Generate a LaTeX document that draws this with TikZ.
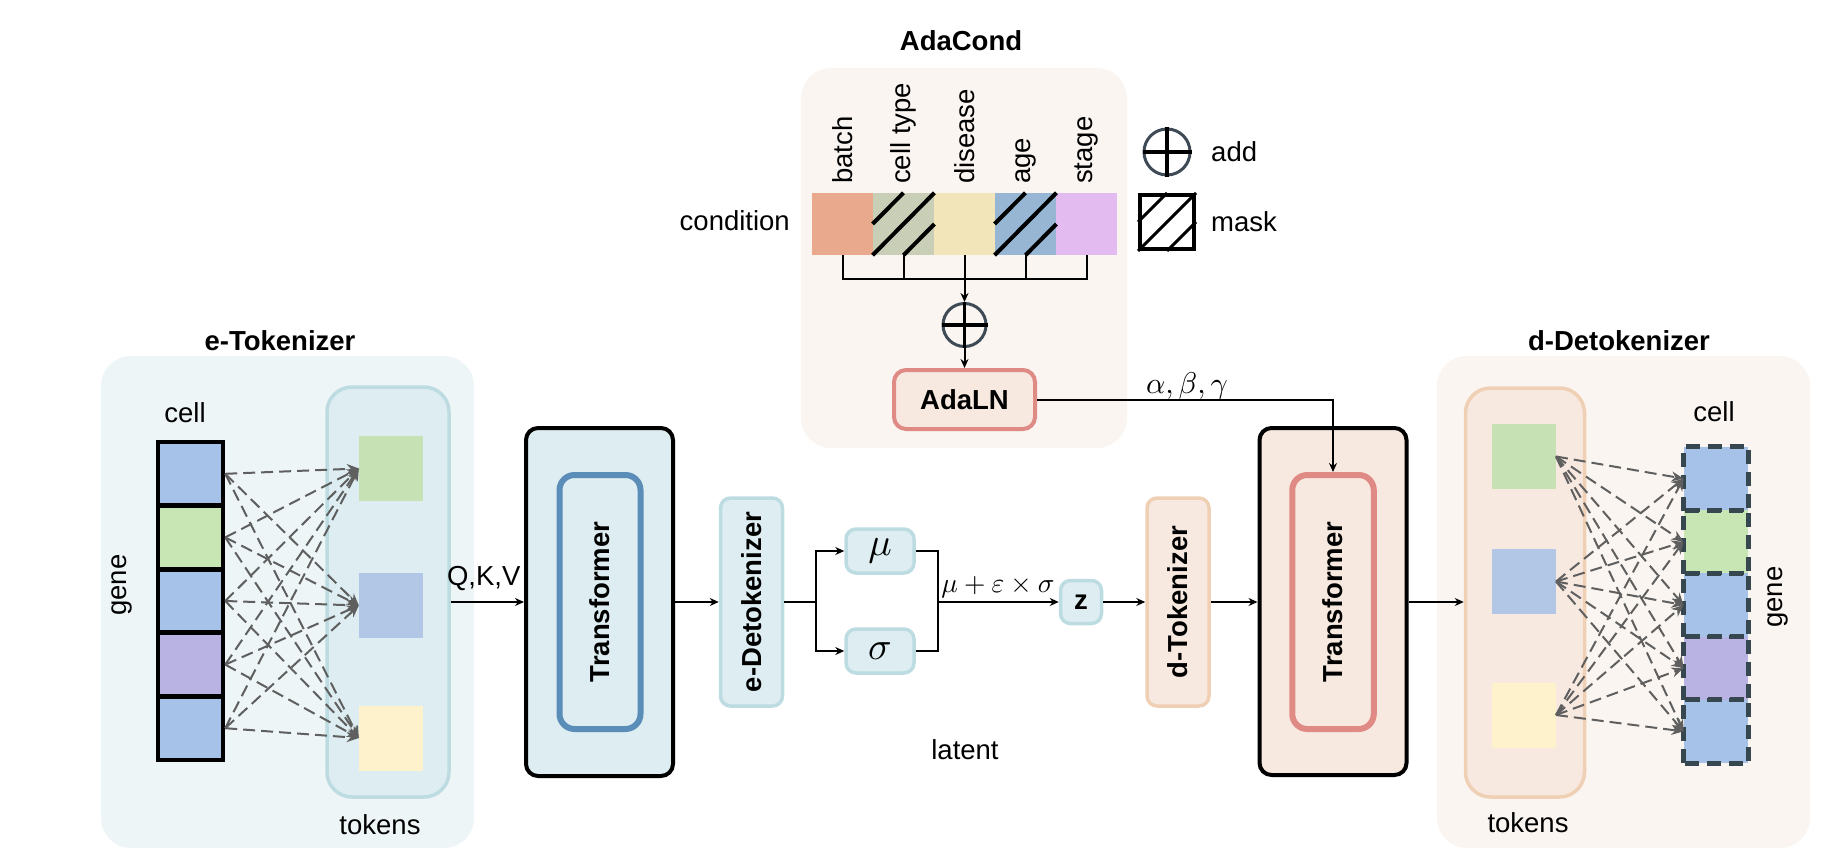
\documentclass[tikz,border=0pt]{standalone}
\usepackage{fontspec}
\setmainfont{Liberation Sans}
\usetikzlibrary{arrows.meta,positioning,calc}

\definecolor{etokbg}{HTML}{EDF5F7}
\definecolor{tokfill}{HTML}{DDEDF1}
\definecolor{tokline}{HTML}{BCDCE2}
\definecolor{tfblue}{HTML}{5B8DB9}
\definecolor{warmbg}{HTML}{FAF5F1}
\definecolor{warmfill}{HTML}{F7E9E0}
\definecolor{warmline}{HTML}{F0D0B5}
\definecolor{salmon}{HTML}{DF8A85}
\definecolor{cbatch}{HTML}{E8A98D}
\definecolor{ccell}{HTML}{C9CFB6}
\definecolor{cdis}{HTML}{F3E5BA}
\definecolor{cage}{HTML}{97B6D3}
\definecolor{cstage}{HTML}{E3BBF0}
\definecolor{gblue}{HTML}{A6C2E9}
\definecolor{ggreen}{HTML}{C8E6B3}
\definecolor{gpurple}{HTML}{B8B3E3}
\definecolor{tgreen}{HTML}{C6E1B3}
\definecolor{tblue}{HTML}{B2C6E6}
\definecolor{tyellow}{HTML}{FDF2CC}
\definecolor{arrowgray}{HTML}{5F5F5F}
\definecolor{slate}{HTML}{37474F}
\definecolor{circgray}{HTML}{3E4A55}

\tikzset{
  txt/.style={inner sep=0pt, font=\fontsize{27.5}{33}\selectfont},
  btxt/.style={inner sep=0pt, font=\bfseries\fontsize{27.5}{33}\selectfont},
  mth/.style={inner sep=0pt, font=\fontsize{10}{12}\selectfont, scale=#1},
  mth/.default=2.75,
  panel/.style={rectangle, rounded corners=30pt, inner sep=0pt},
  blk/.style={rectangle, rounded corners=10pt, line width=3.5pt, inner sep=0pt},
  gcell/.style={rectangle, inner sep=0pt, minimum height=63.4pt},
  attn/.style={draw=arrowgray, line width=2pt, dash pattern=on 12pt off 6pt, -{Stealth[length=12pt,width=10pt]}},
  flow/.style={line width=2pt, -{Stealth[length=9pt,width=8pt]}},
  hatch/.style={line width=4pt},
}

\begin{document}
\begin{tikzpicture}[x=1pt, y=-1pt]
\useasboundingbox (0,0) rectangle (1826,856);

% panels
\node[panel, fill=etokbg, minimum width=373pt, minimum height=492pt] (etokbox) at (287.5,602) {};
\node[panel, fill=warmbg, minimum width=373pt, minimum height=492pt] (ddetokbox) at (1623.5,602) {};
\node[panel, fill=warmbg, minimum width=326pt, minimum height=380pt] (adabox) at (964,258) {};
\node[btxt] (etoktitle) at (280,341) {e-Tokenizer};
\node[btxt] (ddetoktitle) at (1619,341) {d-Detokenizer};
\node[btxt] (adatitle) at (961,41) {AdaCond};

% e-Tokenizer
\node[blk, rounded corners=25pt, fill=tokfill, draw=tokline, minimum width=122pt, minimum height=410pt] (etokens) at (388,592) {};
\foreach \c/\y [count=\i] in {tgreen/468.5, tblue/605.5, tyellow/738}
  \node[rectangle, inner sep=0pt, fill=\c, minimum width=64pt, minimum height=65pt] (et\i) at (391,\y) {};
\foreach \c [count=\i from 0] in {gblue,ggreen,gblue,gpurple,gblue}
  \node[gcell, fill=\c, draw=black, line width=4.5pt, minimum width=65pt] (ec\i) at (190.5,{473.8+63.6*\i}) {};
\foreach \i in {0,...,4}
  \foreach \j in {1,2,3}
    \draw[attn] (ec\i.east) -- (et\j.west);
\node[txt] (ecell) at (185,413) {cell};
\node[txt, rotate=90] (egene) at (122,585) {gene};
\node[txt] (etoklbl) at (380,825) {tokens};

% encoder
\node[blk, rounded corners=12pt, fill=tokfill, draw=black, line width=4pt, minimum width=147pt, minimum height=348pt] (tfl) at (599.5,602) {};
\node[blk, rounded corners=15pt, draw=tfblue, line width=6pt, rotate=90, minimum width=254pt, minimum height=81pt, font=\bfseries\fontsize{27.5}{33}\selectfont] (tfli) at (600,602) {Transformer};
\draw[flow] (etokens.east |- tfl.west) -- (tfl.west) node[txt, pos=0.45, above=10pt] (qkv) {Q,K,V};
\node[blk, fill=tokfill, draw=tokline, rotate=90, minimum width=208pt, minimum height=62pt, font=\bfseries\fontsize{27.5}{33}\selectfont] (edetok) at (751.5,602) {e-Detokenizer};
\draw[flow] (tfl.east) -- (edetok.north);

% latent
\node[blk, fill=tokfill, draw=tokline, minimum width=68pt, minimum height=44pt] (mu) at (880,551) {};
\node[mth=3.9] (mutxt) at (mu) {$\mu$};
\node[blk, fill=tokfill, draw=tokline, minimum width=68pt, minimum height=44pt] (sigma) at (880,651) {};
\node[mth=3.9] (sigmatxt) at (sigma) {$\sigma$};
\coordinate (split) at (816,602);
\coordinate (merge) at (938,602);
\draw[line width=2pt] (edetok.south) -- (split);
\draw[flow] (split) |- (mu.west);
\draw[flow] (split) |- (sigma.west);
\draw[line width=2pt] (mu.east) -| (merge);
\draw[line width=2pt] (sigma.east) -| (merge);
\node[blk, fill=tokfill, draw=tokline, minimum width=41pt, minimum height=43pt, btxt] (z) at (1081,602) {z};
\draw[flow] (merge) -- (z.west);
\node[mth] (reparam) at (998,587) {$\mu+\varepsilon\times\sigma$};
\node[txt] (latent) at (965,750) {latent};

% decoder
\node[blk, fill=warmfill, draw=warmline, rotate=90, minimum width=208pt, minimum height=62pt, font=\bfseries\fontsize{27.5}{33}\selectfont] (dtok) at (1178,602) {d-Tokenizer};
\draw[flow] (z.east) -- (dtok.north);
\node[blk, rounded corners=12pt, fill=warmfill, draw=black, line width=4pt, minimum width=147pt, minimum height=347pt] (tfr) at (1333,601.5) {};
\node[blk, rounded corners=15pt, draw=salmon, line width=6pt, rotate=90, minimum width=254pt, minimum height=81.5pt, font=\bfseries\fontsize{27.5}{33}\selectfont] (tfri) at (1333,602) {Transformer};
\draw[flow] (dtok.south) -- (tfr.west |- dtok.south);

% d-Detokenizer
\node[blk, rounded corners=25pt, fill=warmfill, draw=warmline, minimum width=119pt, minimum height=409pt] (dtokens) at (1525,592.5) {};
\draw[flow] (tfr.east |- dtok.south) -- (dtokens.west |- dtok.south);
\foreach \c/\y [count=\i] in {tgreen/456.5, tblue/581.5, tyellow/715}
  \node[rectangle, inner sep=0pt, fill=\c, minimum width=63.6pt, minimum height=65pt] (dt\i) at (1524,\y) {};
\foreach \c [count=\i from 0] in {gblue,ggreen,gblue,gpurple,gblue}
  \node[gcell, fill=\c, minimum width=64.6pt] (dc\i) at (1716,{478.6+63.2*\i}) {};
\foreach \i in {0,...,4}
  \draw[slate, line width=4.5pt, dash pattern=on 14pt off 8pt] (dc\i.south west) rectangle (dc\i.north east);
\foreach \j in {1,2,3}
  \foreach \i in {0,...,4}
    \draw[attn] (dt\j.east) -- (dc\i.west);
\node[txt] (dcell) at (1714,412) {cell};
\node[txt, rotate=90] (dgene) at (1778,597) {gene};
\node[txt] (dtoklbl) at (1528,823) {tokens};

% AdaCond
\foreach \c/\t [count=\i from 0] in {cbatch/batch, ccell/cell type, cdis/disease, cage/age, cstage/stage} {
  \pgfmathsetmacro\x{842.5+61*\i}
  \node[rectangle, inner sep=0pt, fill=\c, minimum width=61.5pt, minimum height=62pt] (cond\i) at (\x,224) {};
  \node[txt, rotate=90, anchor=west] (cl\i) at (\x,184) {\t};
}
\foreach \i in {1,3}
  \draw[hatch] (cond\i.west) -- (cond\i.north) (cond\i.south west) -- (cond\i.north east) (cond\i.south) -- (cond\i.east);
\node[txt, anchor=east] (condlbl) at (790,221) {condition};
\coordinate (bar) at (964.5,279);
\draw[line width=2pt] (cond0.south) |- (bar) -| (cond4.south);
\foreach \i in {1,3}
  \draw[line width=2pt] (cond\i.south) -- (cond\i.south |- bar);
\node[circle, draw=circgray, line width=3pt, minimum size=43pt, inner sep=0pt] (plus) at (964.5,325) {};
\draw[line width=3.5pt] (plus.north) -- (plus.south) (plus.west) -- (plus.east);
\draw[flow] (cond2.south) -- (plus.north);
\node[blk, rounded corners=12pt, fill=warmfill, draw=salmon, line width=4pt, minimum width=141pt, minimum height=59pt, btxt] (adaln) at (964.5,399.5) {AdaLN};
\draw[flow] (plus.south) -- (adaln.north);
\draw[flow] (adaln.east) -| (tfri.east);
\node[mth=3] (params) at (1187,386) {$\alpha,\beta,\gamma$};

% legend
\node[circle, draw=circgray, line width=3pt, minimum size=46pt, inner sep=0pt] (addsym) at (1167,152) {};
\draw[line width=3.5pt] (addsym.north) -- (addsym.south) (addsym.west) -- (addsym.east);
\node[txt, anchor=west] (addlbl) at (1211,152) {add};
\node[rectangle, draw=black, line width=4pt, minimum size=54pt, inner sep=0pt] (masksym) at (1167,222) {};
\draw[line width=3pt] (masksym.west) -- (masksym.north) (masksym.south west) -- (masksym.north east) (masksym.south) -- (masksym.east);
\node[txt, anchor=west] (masklbl) at (1211,222) {mask};
\end{tikzpicture}
\end{document}
